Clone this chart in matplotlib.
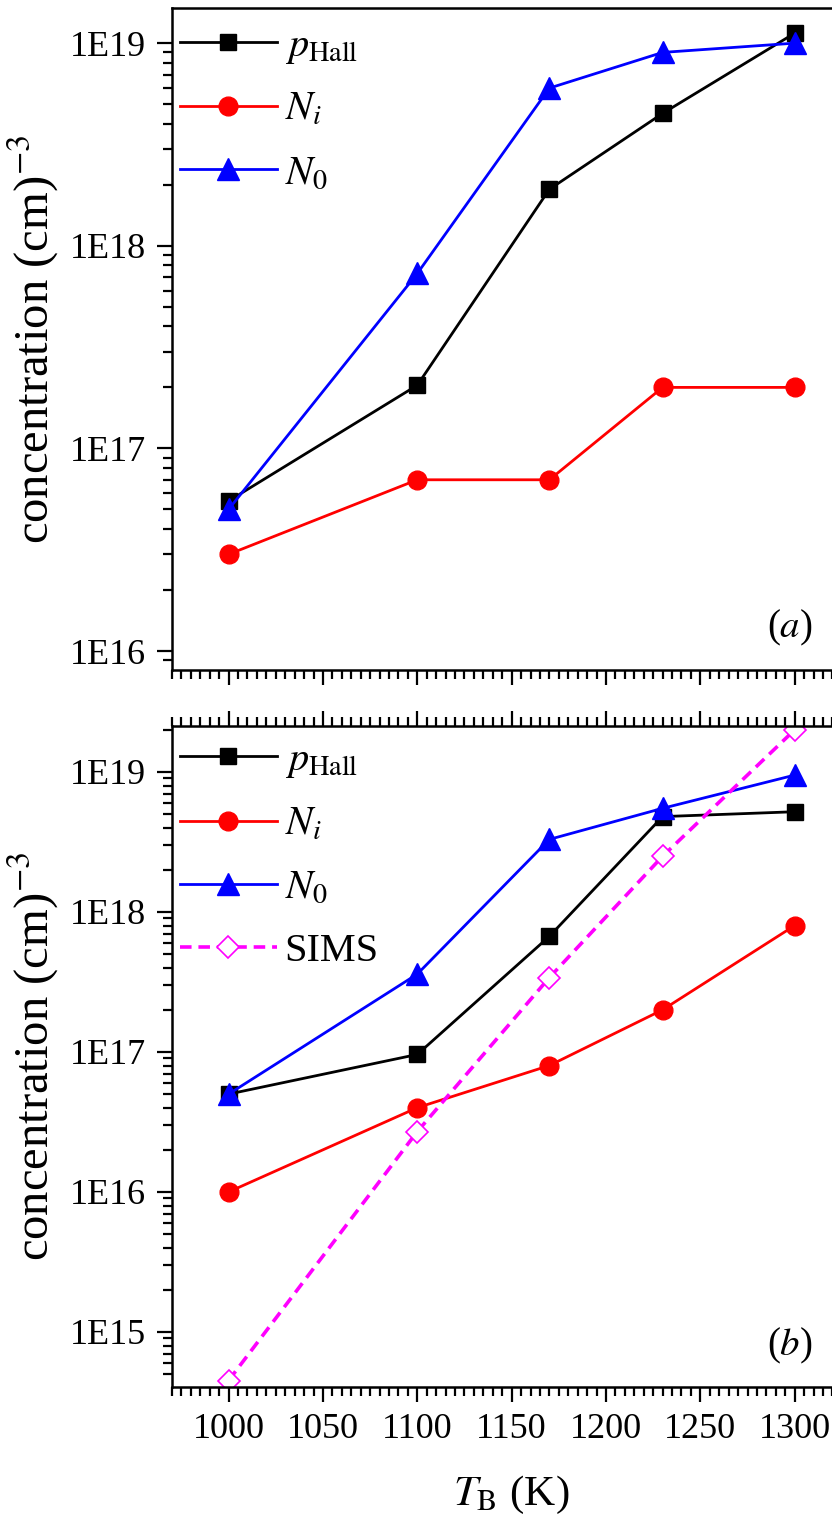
import numpy as np
import matplotlib
matplotlib.use('Agg')
import matplotlib.pyplot as plt
from matplotlib.ticker import LogLocator, FuncFormatter, MultipleLocator, NullFormatter

plt.rcParams['font.family'] = ['Liberation Serif', 'DejaVu Serif']
plt.rcParams['mathtext.fontset'] = 'stix'

# data
T_B = [1000, 1100, 1170, 1230, 1300]

# panel (a)
p_hall_a = [5.5e16, 2.05e17, 1.9e18, 4.5e18, 1.12e19]
n_i_a    = [3.0e16, 7.0e16, 7.0e16, 2.0e17, 2.0e17]
n_0_a    = [5.0e16, 7.3e17, 6.0e18, 9.0e18, 1.0e19]

# panel (b)
p_hall_b = [5.0e16, 9.6e16, 6.7e17, 4.8e18, 5.2e18]
n_i_b    = [1.0e16, 4.0e16, 8.0e16, 2.0e17, 8.0e17]
n_0_b    = [5.0e16, 3.6e17, 3.3e18, 5.5e18, 9.5e18]
sims_b   = [4.5e14, 2.7e16, 3.4e17, 2.5e18, 2.0e19]

LABEL_P = r'$p_{\rm Hall}$'
LABEL_NI = r'$N_i$'
LABEL_N0 = r'$N_0$'
LABEL_SIMS = 'SIMS'

TICK_FS = 26
YLABEL_FS = 35
XLABEL_FS = 31
LEG_FS = 29


def style_axis(ax, ylim, top_ticks, bottom_labels):
    ax.set_yscale('log')
    ax.set_xlim(970, 1330)
    ax.set_ylim(*ylim)
    ax.xaxis.set_major_locator(MultipleLocator(50))
    ax.xaxis.set_minor_locator(MultipleLocator(5))
    ax.yaxis.set_major_locator(LogLocator(base=10, numticks=20))
    ax.yaxis.set_minor_locator(LogLocator(base=10, subs=np.arange(2, 10), numticks=20))
    ax.yaxis.set_minor_formatter(NullFormatter())
    ax.yaxis.set_major_formatter(
        FuncFormatter(lambda v, pos: f"1E{int(round(np.log10(v)))}"))
    ax.tick_params(which='both', direction='out', width=1.6,
                   top=top_ticks, right=False, bottom=True,
                   labelbottom=bottom_labels, labeltop=False,
                   labelsize=TICK_FS, pad=8)
    ax.tick_params(which='major', length=11)
    ax.tick_params(which='minor', length=6.5)
    for s in ax.spines.values():
        s.set_linewidth(1.8)
    ax.set_ylabel(r'concentration (cm)$^{-3}$', fontsize=YLABEL_FS)
    ax.yaxis.set_label_coords(-0.163, 0.5)


def plot_common(ax, p, ni, n0):
    ax.plot(T_B, p, color='black', lw=2.0, marker='s', ms=12,
            mfc='black', mec='black', label=LABEL_P)
    ax.plot(T_B, ni, color='red', lw=2.0, marker='o', ms=13.5,
            mfc='red', mec='red', label=LABEL_NI)
    ax.plot(T_B, n0, color='blue', lw=2.0, marker='^', ms=16,
            mfc='blue', mec='blue', label=LABEL_N0)


def add_legend(ax, top):
    ax.legend(loc='upper left', fontsize=LEG_FS, frameon=False,
              handlelength=2.4, handletextpad=0.2, labelspacing=0.65,
              borderaxespad=0.0, bbox_to_anchor=(-0.012, top))


fig = plt.figure(figsize=(8.32, 15.26), dpi=100)
ax1 = fig.add_axes([0.2067, 0.5609, 0.8165, 0.4338])
ax2 = fig.add_axes([0.2067, 0.0911, 0.8165, 0.4332])

# ---- panel (a)
plot_common(ax1, p_hall_a, n_i_a, n_0_a)
style_axis(ax1, (10 ** 15.906, 10 ** 19.173), top_ticks=False, bottom_labels=False)
add_legend(ax1, 0.995)
ax1.text(0.943, 0.063, r'($a$)', transform=ax1.transAxes,
         fontsize=28, ha='right', va='center')

# ---- panel (b)
plot_common(ax2, p_hall_b, n_i_b, n_0_b)
ax2.plot(T_B, sims_b, color='magenta', lw=2.6, ls=(0, (3.2, 1.9)),
         marker='D', ms=11.5, mfc='white', mec='magenta', mew=1.2,
         label=LABEL_SIMS)
style_axis(ax2, (10 ** 14.607, 10 ** 19.329), top_ticks=True, bottom_labels=True)
add_legend(ax2, 1.0)
ax2.text(0.943, 0.062, r'($b$)', transform=ax2.transAxes,
         fontsize=28, ha='right', va='center')
ax2.set_xlabel(r'$T_{\rm B}$ (K)', fontsize=XLABEL_FS, labelpad=20)

fig.savefig('out.png', dpi=100)
